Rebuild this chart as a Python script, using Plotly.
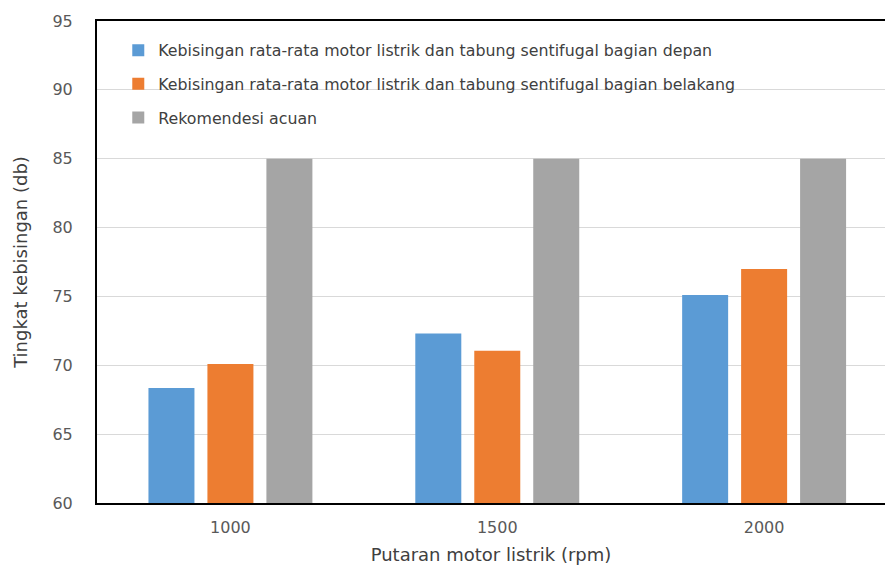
import plotly.graph_objects as go

# Noise levels per motor speed
categories = ["1000", "1500", "2000"]
depan = [68.35, 72.3, 75.1]
belakang = [70.1, 71.05, 77.0]
acuan = [85, 85, 85]

series_names = [
    "Kebisingan rata-rata motor listrik dan tabung sentifugal bagian depan",
    "Kebisingan rata-rata motor listrik dan tabung sentifugal bagian belakang",
    "Rekomendesi acuan",
]
colors = ["#5B9BD5", "#ED7D31", "#A5A5A5"]
y_ticks = [60, 65, 70, 75, 80, 85, 90, 95]

FONT = "DejaVu Sans"

fig = go.Figure()
for i, (name, vals, col) in enumerate(zip(series_names, [depan, belakang, acuan], colors)):
    fig.add_trace(go.Bar(
        x=categories, y=vals, name=name,
        marker=dict(color=col, line=dict(width=0)),
        legendgroup=f"g{i}",
    ))

fig.update_layout(
    width=885, height=569,
    margin=dict(l=97, r=0, t=21, b=66),
    paper_bgcolor="white", plot_bgcolor="white",
    barmode="group", bargap=0.337, bargroupgap=0.22,
    font=dict(family=FONT, color="#595959", size=15),
    legend=dict(
        x=0.027, y=0.974, xanchor="left", yanchor="top",
        bgcolor="rgba(0,0,0,0)",
        font=dict(family=FONT, size=15.8, color="#404040"),
        tracegroupgap=10,
        itemwidth=30,
    ),
    showlegend=True,
)
fig.update_xaxes(
    type="category",
    range=[-0.5, 2.453],
    showline=True, linecolor="black", linewidth=2, mirror=True,
    showgrid=False, ticks="",
    tickfont=dict(family=FONT, size=16, color="#595959"),
    ticklabelstandoff=9,
    title=dict(text="Putaran motor listrik (rpm)", font=dict(family=FONT, size=18, color="#404040"), standoff=12),
)
fig.update_yaxes(
    range=[60, 95], tickvals=y_ticks,
    showline=True, linecolor="black", linewidth=2,
    showgrid=True, gridcolor="#D9D9D9", gridwidth=1,
    zeroline=False, ticks="",
    tickfont=dict(family=FONT, size=16, color="#595959"),
    ticklabelstandoff=19,
    title=dict(text="Tingkat kebisingan (db)", font=dict(family=FONT, size=18, color="#404040"), standoff=20),
)

fig.write_html("out.html")
